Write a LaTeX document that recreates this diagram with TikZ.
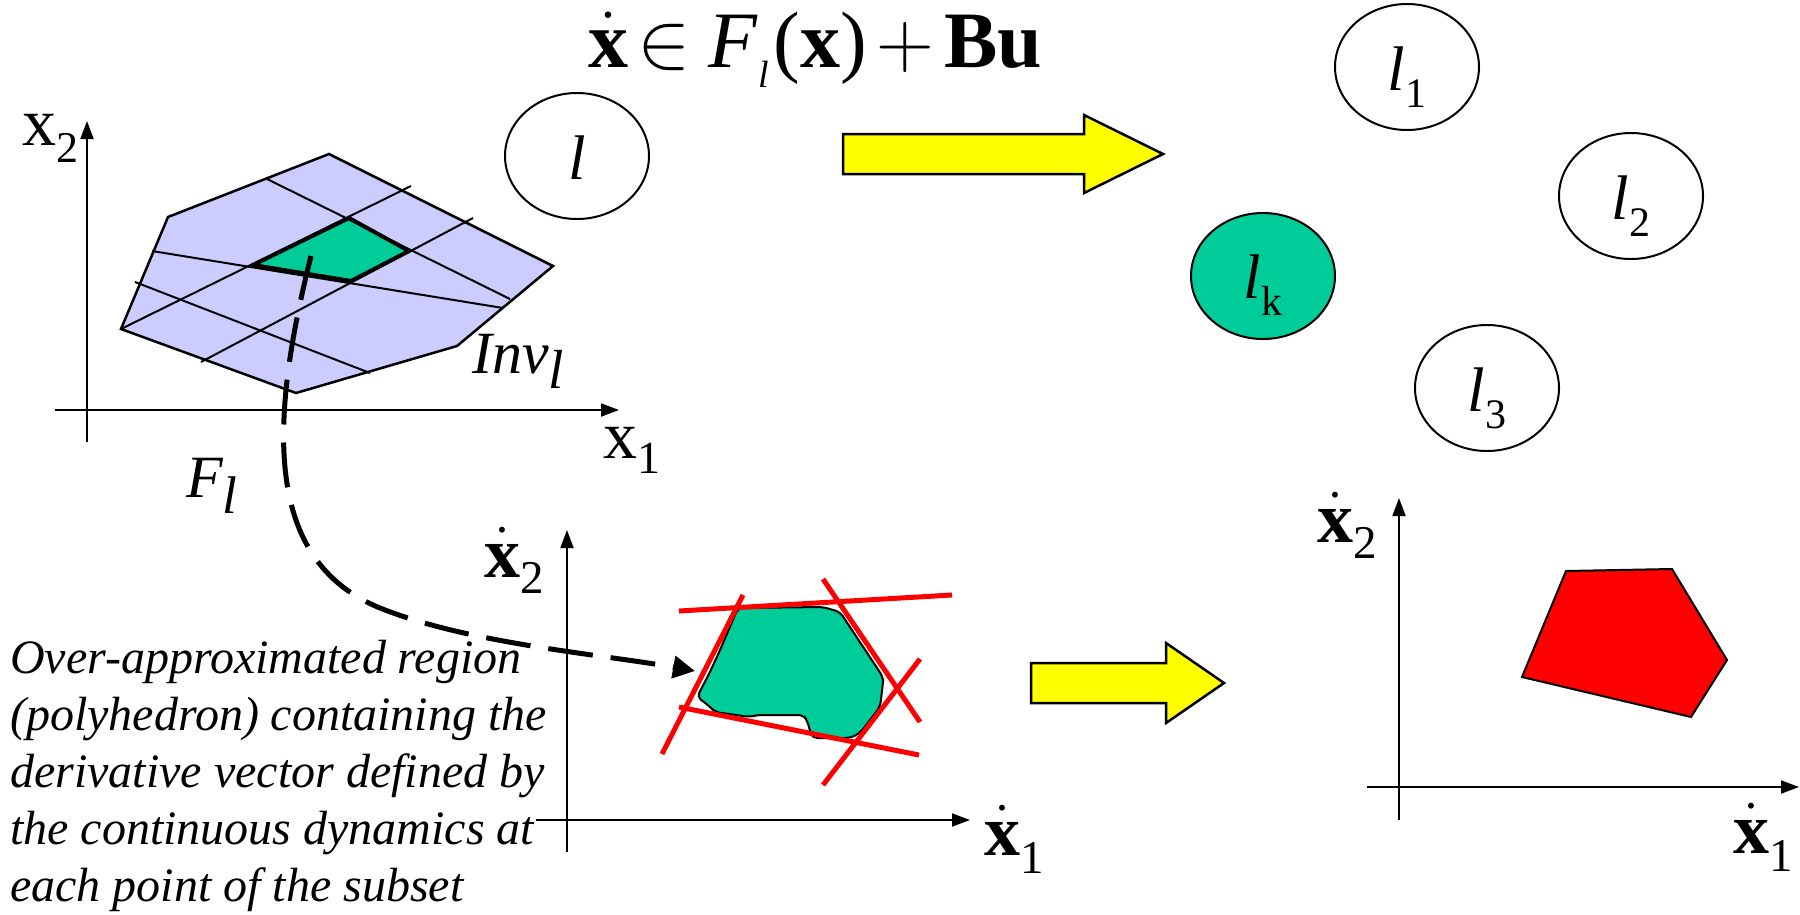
\documentclass[tikz,border=0pt]{standalone}
\usepackage{fix-cm}
\usepackage{fontspec}
\setmainfont{Liberation Serif}
\usetikzlibrary{arrows.meta,shapes.geometric}
\definecolor{lav}{HTML}{CCCCFF}
\definecolor{grn}{HTML}{00CC99}
\definecolor{yel}{HTML}{FFFF00}
\definecolor{rd}{HTML}{FF0000}
% subscript: #1 drop, #2 size, #3 text
\newcommand{\lowsub}[3]{\raisebox{-#1}{\fontsize{#2}{#2}\selectfont #3}}
\newcommand{\xdot}{\mbox{$\dot{\mathbf{x}}$}}
\begin{document}
\begin{tikzpicture}[x=1pt,y=-1pt,
  axis/.style={line width=2pt,-{Triangle[length=18pt,width=13pt]}},
  loc/.style={ellipse,draw,line width=2pt,minimum width=144pt,minimum height=126pt,inner sep=0pt},
  loctxt/.style={inner sep=0pt,anchor=base,font=\fontsize{63}{70}\selectfont},
  lbl/.style={inner sep=0pt,anchor=base west},
  axlbl/.style={lbl,font=\fontsize{68}{80}\selectfont},
  dotlbl/.style={lbl,font=\fontsize{72}{80}\selectfont},
  grid/.style={line width=2pt},
  redline/.style={rd,line width=5pt},
  yarrow/.style={draw,fill=yel,line width=2.5pt,line join=miter},
  conn/.style={line width=5pt,dash pattern=on 45pt off 18pt,-{Triangle[length=22pt,width=22pt]}}
]
\useasboundingbox (0,0) rectangle (1800,914);

% ---------- top-left plot ----------
\fill[lav] (329,154) -- (553,266) -- (457,346) -- (296,393) -- (121,329) -- (168,217) -- cycle;
\fill[grn] (349,218) -- (409,251) -- (351,281) -- (253,265) -- cycle;
\draw[grid] (267,179) -- (510,299);
\draw[grid] (152,251) -- (503,308);
\draw[grid] (135,282) -- (370,373);
\draw[grid] (121,329) -- (411,186);
\draw[grid] (201,362) -- (473,218);
\draw[line width=2.5pt,line join=miter] (329,154) -- (553,266) -- (457,346) -- (296,393) -- (121,329) -- (168,217) -- cycle;
\draw[line width=4pt,line join=miter] (349,218) -- (409,251) -- (351,281) -- (253,265) -- cycle;
\draw[axis] (87,442) -- (87,121);
\draw[axis] (55,410) -- (619,410);
\node[axlbl] (x2a) at (22,145) {x\lowsub{17pt}{44}{2}};
\node[axlbl] (x1a) at (603,458) {x\lowsub{15pt}{46}{1}};
\node[lbl,font=\fontsize{60}{70}\selectfont\itshape] (Fl) at (186,497) {F\lowsub{16pt}{53}{l}};
\node[lbl,font=\fontsize{60}{70}\selectfont\itshape] (Inv) at (472,373) {Inv\lowsub{15pt}{55}{l}};
\node[loc] (l) at (577,156) {};
\node[loctxt] (lt) at ([yshift=-23pt]l.center) {\textit{l}};

% ---------- formula and top arrow ----------
\node[inner sep=0pt,anchor=base west,font=\fontsize{80}{90}\selectfont] (eq) at (588,67)
  {\xdot\hspace{9pt}$\in$\hspace{18pt}\textit{F}\lowsub{20pt}{38}{\textit{l}}\hspace{5pt}(\textbf{x})\hspace{10pt}$+$\hspace{10pt}\textbf{Bu}};
\draw[yarrow] (843,134) -- (1084,134) -- (1084,115) -- (1163,154) -- (1084,193) -- (1084,174) -- (843,174) -- cycle;

% ---------- locations ----------
\node[loc] (l1) at (1407,67) {};
\node[loc] (l2) at (1631,196) {};
\node[loc,fill=grn] (lk) at (1263,276) {};
\node[loc] (l3) at (1487,388) {};
\node[loctxt] (l1t) at ([yshift=-23pt]l1.center) {\textit{l}\lowsub{17pt}{42}{1}};
\node[loctxt] (l2t) at ([yshift=-23pt]l2.center) {\textit{l}\lowsub{17pt}{42}{2}};
\node[loctxt] (lkt) at ([yshift=-22pt]lk.center) {\textit{l}\lowsub{17pt}{42}{k}};
\node[loctxt] (l3t) at ([yshift=-23pt]l3.center) {\textit{l}\lowsub{17pt}{42}{3}};

% ---------- bottom-middle plot ----------
\draw[axis] (567,852) -- (567,530);
\draw[axis] (536,820) -- (970,820);
\node[dotlbl] (xd2a) at (484,577) {\xdot\lowsub{16pt}{47}{2}};
\node[dotlbl] (xd1a) at (984,855) {\xdot\lowsub{18pt}{47}{1}};
\draw[fill=grn,line width=2pt,rounded corners=5pt]
  (738,608) -- (823,607) -- (840,612) -- (883,677) -- (883,683) -- (880,707)
  -- (870,720) -- (860,733) -- (850,738) -- (812,738) -- (807,720) -- (803,715)
  -- (757,715) -- (750,717) -- (715,712) -- (708,705) -- (697,697) -- (710,672)
  -- (720,650) -- cycle;
\draw[redline] (679,611) -- (952,595);
\draw[redline] (662,754) -- (743,595);
\draw[redline] (679,707) -- (919,755);
\draw[redline] (823,579) -- (920,722);
\draw[redline] (823,785) -- (920,659);
\coordinate (cstart) at (311,256);
\coordinate (cend) at (695,671);
\draw[conn] (cstart) .. controls (270,420) and (262,560) .. (380,608) .. controls (470,644) and (600,654) .. (cend);

% ---------- text ----------
\node[inner sep=0pt,anchor=north west,align=left,font=\fontsize{48}{57}\selectfont\itshape] (desc) at (10,640)
 {Over-approximated region\\(polyhedron) containing the\\derivative vector defined by\\the continuous dynamics at\\each point of the subset};

% ---------- bottom arrow ----------
\draw[yarrow] (1031,663) -- (1166,663) -- (1166,643) -- (1224,683) -- (1166,723) -- (1166,703) -- (1031,703) -- cycle;

% ---------- bottom-right plot ----------
\draw[axis] (1399,820) -- (1399,498);
\draw[axis] (1367,787) -- (1799,787);
\node[dotlbl] (xd2b) at (1317,542) {\xdot\lowsub{16pt}{47}{2}};
\node[dotlbl] (xd1b) at (1733,853) {\xdot\lowsub{18pt}{47}{1}};
\draw[fill=rd,line width=2pt,line join=miter] (1566,571) -- (1672,569) -- (1727,660) -- (1691,717) -- (1522,677) -- cycle;
\end{tikzpicture}
\end{document}
